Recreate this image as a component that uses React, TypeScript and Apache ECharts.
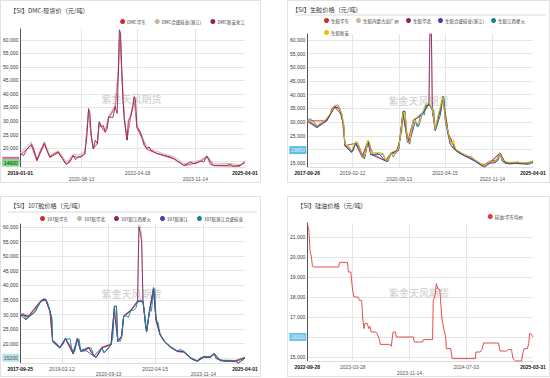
import React, { useEffect, useRef } from 'react';
import * as echarts from 'echarts';

const FONT = '"Liberation Sans", "Noto Sans CJK SC", sans-serif';
const CJK = '"Noto Sans CJK SC", "Liberation Sans", sans-serif';

const C_RED = '#d9262b';
const C_BEIGE = '#c9b79c';
const C_MAROON = '#8e2466';
const C_INDIGO = '#4b3ca8';
const C_TEAL = '#13858f';
const C_YELLOW = '#f5bc00';

// ---------- Panel 1: DMC ----------
const p1Title = '【SI】DMC-现货价（元/吨）';
const p1Names = ['DMC华东', 'DMC合盛硅业(浙江)', 'DMC新安化工'];
const p1TickPos = [0, 27.2, 52.2, 77.9, 100];
const p1TickLabels = ['2019-01-01', '2020-08-13', '2022-04-18', '2023-11-14', '2025-04-01'];
const p1East = [[0,17500],[4.9,21000],[7.4,15300],[10.7,21500],[13.2,16500],[16.9,18300],[20.6,14000],[23.5,17000],[25.7,16500],[28.7,17800],[30.4,33500],[31.6,24000],[32.5,19800],[34.3,21500],[35.1,29000],[37.8,25800],[39.3,31000],[42.2,35000],[43.7,48000],[44.1,60000],[44.6,60000],[45.1,48000],[46.3,30500],[47.5,23000],[49.0,31000],[50.7,38500],[51.9,27500],[54.3,23500],[56.3,19600],[59.6,18400],[64.0,17100],[68.4,16000],[72.8,13500],[77.2,14300],[80.1,15000],[83.1,16800],[86.0,13500],[92,13400],[97.8,13300],[100,15300]];
const p1Hoshine = [[0,18200],[4.9,22300],[7.4,16000],[10.7,22500],[13.2,17200],[16.9,19000],[20.6,14800],[23.5,17800],[25.7,17300],[28.7,18500],[30.4,34000],[31.6,25000],[32.5,20500],[34.3,22300],[35.1,29800],[37.8,26500],[39.3,31800],[42.2,36000],[43.7,50500],[44.1,62500],[44.6,62000],[45.1,50000],[46.3,31500],[47.5,24000],[49.0,32000],[50.7,38500],[51.9,28500],[54.3,24200],[56.3,20500],[59.6,19200],[64.0,17800],[68.4,16800],[72.8,14200],[77.2,14900],[80.1,15600],[83.1,17200],[86.0,14200],[92,14300],[97.8,13900],[100,15000]];
const p1Main = [[0,17900],[1.5,17300],[2.9,19500],[4.4,21000],[4.9,21400],[5.9,19800],[7.4,15500],[8.8,18600],[10.3,21000],[10.7,21800],[11.8,19200],[13.2,16700],[14.7,17700],[16.9,18600],[18.4,16700],[19.9,14500],[20.6,14000],[22.1,14900],[23.5,17300],[24.6,15700],[25.7,16700],[27.2,16700],[28.7,17900],[29.6,24100],[30.4,34600],[31.0,32800],[31.6,24100],[32.5,19800],[33.4,22900],[34.3,21700],[35.1,29700],[36.0,27800],[36.9,28400],[37.8,26000],[38.7,27200],[39.3,31500],[41.2,31300],[42.2,35300],[43.1,32800],[43.7,50100],[44.1,63700],[44.6,62500],[45.1,50100],[45.7,37700],[46.3,30900],[47.1,25400],[47.5,22900],[48.1,30300],[49.0,31500],[50.0,34600],[50.7,39000],[51.3,37700],[51.9,27800],[52.5,27200],[53.4,26000],[54.3,23500],[55.1,21000],[56.3,19800],[57.4,20400],[58.1,19200],[59.6,18600],[61.0,17900],[62.5,17700],[64.0,17300],[65.4,17000],[66.9,16700],[68.4,16100],[69.9,15200],[71.3,14500],[72.8,13600],[74.3,14200],[75.7,14900],[77.2,14200],[78.7,14500],[80.1,15200],[81.6,14900],[83.1,17000],[84.6,14000],[86.0,13600],[89.0,13600],[91.9,13600],[93.4,14000],[94.9,13200],[97.8,13600],[100,14600]];

// ---------- Panel 2: 生胶 ----------
const p2Title = '【SI】生胶价格（元/吨）';
const p2Names = ['生胶华东', '生胶内蒙古出厂价', '生胶华北', '生胶合盛硅业(浙江)', '生胶江西星火', '生胶新安'];
const p2TickPos = [0, 20, 40.7, 61, 82, 100];
const p2TickLabels = ['2017-09-26', '2019-02-12', '2020-09-13', '2022-04-15', '2023-11-14', '2025-04-01'];
const p2East = [[0,30500],[8.6,30500],[12.1,35500],[15.3,32500],[16.7,21500],[21.4,22300],[25.3,17000],[26.9,23000],[29.3,18200],[34.7,16000],[37.1,18800],[40.4,19800],[42.4,33500],[44.4,23000],[47,30500],[51,33000],[53.9,36500],[55.4,34500],[56.7,27500],[60.1,39000],[62.4,26200],[65.7,20000],[70,17800],[74.3,16200],[77.1,14800],[78.6,14600],[80.7,15800],[83.6,16200],[85.3,18500],[87.9,15300],[92.1,15400],[97.1,15000],[100,15800]];
const p2InnerMongolia = [[0,31000],[4.3,28600],[8.6,31000],[12.1,36000],[15.3,33000],[16.7,22000],[19.6,19500],[21.4,22800],[24.3,17600],[26.9,23300],[28.1,18600],[34.7,16100],[37.1,19000],[40.4,20000],[42.4,34000],[43.9,26800],[45.3,22500],[47,31000],[51,33500],[53.9,37000],[54.3,61500],[55,61500],[55.4,34800],[56.7,27400],[60.1,39400],[62.4,26300],[65.7,20100],[70,17900],[74.3,16100],[78.6,14000],[80.7,15300],[85.3,18800],[87.9,15200],[95.7,15100],[100,15700]];
const p2North = [[0,30300],[4.3,28000],[8.6,30500],[12.1,35500],[14.3,35000],[16.1,29000],[16.7,21300],[19.6,19000],[21.4,22200],[24.3,17300],[26.9,23000],[28.1,18300],[34.7,15900],[37.1,18700],[40.4,19700],[42.4,33000],[43.9,26000],[45.3,22000],[47,30500],[51,33000],[53.9,36800],[54.3,62100],[55,62100],[55.4,34600],[56.7,27000],[60.1,39000],[62.4,26000],[65.7,19800],[70,17600],[74.3,15900],[78.6,13900],[80.7,15100],[85.3,18700],[87.9,15000],[95.7,15000],[100,15500]];
const p2Hoshine = [[0,30800],[4.3,28200],[8.6,30700],[12.1,35600],[14.3,35000],[16.1,28800],[16.7,21500],[19.6,19100],[21.4,22400],[23.3,20300],[25.3,16600],[26.9,23000],[28.1,18200],[32.1,18200],[34.7,15800],[35.7,15700],[37.1,18700],[39.3,18700],[41,23400],[42.4,33800],[43.3,33800],[44.4,22700],[46.1,25200],[47.9,30400],[49.3,28500],[51,33100],[53.9,36800],[55.4,34400],[56.7,27000],[58.9,32500],[60.1,39300],[61.3,29500],[63.3,22100],[65.7,19700],[68.6,18200],[71.4,17200],[74.3,15800],[77.1,14200],[78.6,13700],[80.7,15000],[83.6,15400],[85.3,18700],[86.4,15800],[89.3,14800],[92.1,15000],[95.7,14800],[98.6,14800],[100,15500]];
const p2Xinghuo = [[0,31100],[1.4,31100],[2.9,30300],[4.3,28400],[5.3,29400],[7.1,29900],[8.6,30900],[10,32700],[11,35200],[12.1,35800],[13.6,36000],[14.3,35200],[15.3,32700],[16.1,29100],[16.7,21700],[17.6,21100],[18.6,20700],[19.6,19300],[20.4,19600],[21.4,22600],[22.4,22300],[23.3,20500],[24.3,17400],[25.3,16800],[26.1,21100],[26.9,23200],[27.6,22300],[28.1,18400],[29.3,18000],[30.7,18700],[32.1,18400],[33.6,18400],[34.7,16000],[35.7,15900],[37.1,18900],[38.1,17400],[39.3,18900],[40.4,19900],[41,23600],[41.9,27200],[42.4,34000],[43.3,34000],[43.9,26600],[44.4,22900],[45.3,22300],[46.1,25400],[47,30900],[47.9,30600],[48.6,28400],[49.3,28700],[50.1,32700],[51,33300],[51.9,32700],[52.4,36400],[53.3,35800],[53.9,37000],[55.4,34600],[56,34600],[56.7,27200],[57.3,28400],[58.1,32700],[58.9,32700],[59.6,37000],[60.1,39500],[60.7,38200],[61.3,29700],[61.9,29100],[62.4,26000],[63.3,22300],[63.9,21100],[64.7,20500],[65.7,19900],[67.1,18900],[68.6,18400],[70,17700],[71.4,17400],[72.9,17400],[74.3,16000],[75.7,15200],[77.1,14400],[78.6,13800],[79.6,14700],[80.7,15200],[82.1,15600],[83.6,15600],[84.7,16200],[85.3,18900],[85.9,18400],[86.4,16000],[87.9,15000],[89.3,15000],[90.7,15200],[92.1,15200],[93.3,15600],[94.3,15200],[95.7,15000],[97.1,14700],[98.6,15000],[100,15600]];
const p2Xinan = [[0,30500],[2.9,30000],[4.3,28800],[7.1,30200],[10,33000],[12.1,36200],[13.6,36300],[15.3,33000],[16.1,29500],[16.7,22000],[18.6,21000],[19.6,19600],[21.4,23000],[22.4,22600],[24.3,17800],[25.3,17200],[26.9,23500],[27.6,22600],[28.1,18800],[30.7,19000],[33.6,18700],[34.7,16300],[35.7,16200],[37.1,19200],[38.1,17700],[40.4,20200],[41,23500],[42.4,33500],[43.3,33500],[44.4,23200],[45.3,22600],[47,31000],[49.3,29000],[51,33500],[52.4,36600],[53.9,37200],[55.4,34800],[56.7,27600],[58.1,33000],[60.1,39200],[61.3,30000],[62.4,26500],[63.9,21500],[64.7,23500],[65.7,20300],[68.6,18800],[71.4,17800],[74.3,16400],[77.1,14800],[78.6,14100],[80.7,15500],[83.6,15900],[85.3,18600],[86.4,16300],[89.3,15400],[92.1,15500],[95.7,15300],[98.6,15200],[100,16000]];

// ---------- Panel 3: 107胶 ----------
const p3Title = '【SI】107胶价格（元/吨）';
const p3Names = ['107胶华东', '107胶华北', '107胶江西星火', '107胶浙江', '107胶浙江合盛硅业'];
const p3TickPos = [0, 18.5, 39.3, 60, 81.5, 100];
const p3TickLabels = ['2017-09-25', '2019-02-12', '2020-09-13', '2022-04-15', '2023-11-14', '2025-04-01'];
const p3East = [[0,29800],[3.7,29200],[9.3,34500],[11.3,35000],[13.2,31000],[14.4,20700],[17.6,18500],[20.1,21600],[23.5,16500],[25.4,21600],[26.9,17400],[30.4,18500],[32.8,15700],[33.8,15300],[36.3,18500],[40.4,19600],[41.9,32500],[43.4,20700],[45.1,22400],[46,29300],[49.3,31300],[52.2,34400],[54.6,34400],[56.2,24000],[57.5,31000],[59.3,39000],[60.4,28000],[62.2,23000],[64.3,20500],[66.9,18700],[69.9,17300],[72.8,17100],[75.7,15000],[78.7,14000],[81.6,15300],[84.6,15300],[86.3,16400],[89,14100],[95.6,13900],[100,15000]];
const p3North = [[0,30200],[3.7,29700],[9.3,35000],[11.3,35400],[13.2,31400],[14.4,21100],[17.6,18900],[20.1,22000],[23.5,16800],[25.4,22000],[26.9,17700],[30.4,18900],[32.8,16000],[33.8,15700],[36.3,18900],[40.4,20000],[41.9,33000],[43.4,21100],[45.1,22800],[46,29700],[49.3,31700],[52.2,34800],[52.8,60800],[53.4,60200],[54,57400],[54.6,34800],[56.2,24300],[57.5,31400],[59.3,39400],[60.4,28500],[62.2,23400],[64.3,20900],[66.9,19100],[69.9,17700],[72.8,17500],[75.7,15400],[78.7,14300],[81.6,15700],[84.6,15700],[86.3,16800],[89,14500],[95.6,14300],[100,15400]];
const p3Xinghuo = [[0,30000],[3.7,29500],[9.3,34800],[11.3,35200],[13.2,31200],[14.4,20900],[17.6,18700],[20.1,21800],[23.5,16600],[25.4,21800],[26.9,17500],[30.4,18700],[32.8,15800],[36.3,18700],[40.4,19800],[41.9,31000],[43.4,20900],[45.1,22600],[46,29500],[49.3,31500],[52.2,34600],[52.8,60000],[53.4,58000],[54,55000],[54.6,34600],[56.2,24100],[57.5,31200],[59.3,38800],[60.4,28300],[62.2,23200],[64.3,20700],[66.9,18900],[69.9,17500],[72.8,17300],[75.7,15200],[78.7,14100],[81.6,15500],[84.6,15500],[86.3,16600],[89,14300],[95.6,14100],[100,15300]];
const p3Zhejiang = [[0,29900],[2.5,28200],[6.6,30900],[9.3,34700],[11.3,35100],[13.2,31100],[14,28800],[14.4,20800],[17.6,18600],[20.1,21700],[22.8,18600],[23.5,16500],[25.4,21700],[26.9,17400],[29.4,17600],[32.8,15700],[33.8,15400],[36.3,18600],[37.2,16900],[40.4,19700],[41.9,32800],[42.8,32800],[43.4,20800],[45.1,22500],[46,29400],[49.3,31400],[52.2,34500],[54.6,34500],[55.7,26500],[56.2,24000],[57.5,31100],[59.3,39100],[60.4,28200],[62.2,23100],[64.3,20600],[66.9,18800],[69.9,17400],[72.8,17200],[75.7,15100],[78.7,14000],[81.6,15400],[84.6,15400],[86.3,16500],[87.2,14900],[91.2,14000],[95.6,14000],[97.1,13400],[100,15100]];
const p3Hoshine = [[0,30000],[1.5,30300],[2.5,28300],[3.7,29500],[5.1,30000],[6.6,31000],[8.1,33500],[9.3,34800],[10.3,35400],[11.3,35200],[12.2,34000],[13.2,31200],[14,28900],[14.4,20900],[15.4,20600],[16.6,19800],[17.6,18700],[19.1,19800],[20.1,21800],[21.3,21500],[22.1,21800],[22.8,18700],[23.5,16600],[24.3,17500],[25.4,21800],[26.2,21500],[26.9,17500],[27.9,18100],[29.4,17700],[30.4,18700],[31.6,18500],[32.8,15800],[33.8,15500],[34.9,16400],[35.7,17700],[36.3,18700],[37.2,17000],[38.2,17500],[39.3,18400],[40.4,19800],[41.2,22100],[41.9,32900],[42.8,32900],[43.4,20900],[44.6,20900],[45.1,22600],[46,29500],[47.1,29500],[48.1,29100],[49.3,31500],[50.4,31400],[51.5,32300],[52.2,34600],[53.4,35000],[54.6,34600],[55.1,31800],[55.7,26600],[56.2,24100],[56.9,27800],[57.5,31200],[58.4,31200],[59.3,39200],[59.9,38600],[60.4,28300],[61.3,27200],[62.2,23200],[63.1,22100],[64.3,20700],[65.4,19800],[66.9,18900],[68.4,18100],[69.9,17500],[71.3,18100],[72.8,17300],[74.3,16400],[75.7,15200],[77.2,14300],[78.7,14100],[80.1,15200],[81.6,15500],[83.1,15200],[84.6,15500],[85.7,16400],[86.3,16600],[87.2,15000],[89,14300],[91.2,14100],[93.4,14100],[95.6,14100],[97.1,13500],[98.5,14100],[100,15200]];

// ---------- Panel 4: 硅油 ----------
const p4Title = '【SI】硅油价格（元/吨）';
const p4Names = ['硅油:华东均价'];
const p4TickPos = [0, 20.1, 45.3, 70.4, 100];
const p4TickLabels = ['2022-09-28', '2023-03-28', '2023-11-14', '2024-07-03', '2025-03-31'];
const p4Oil = [[0,21700],[0.7,21330],[1.2,20330],[1.8,20000],[2.3,19530],[2.6,19500],[13.9,19500],[14.3,19730],[17.8,19730],[18.2,19250],[19.3,19250],[19.7,18750],[20.1,18330],[20.7,18000],[22.6,18000],[23.1,17830],[24.1,17830],[24.5,17000],[25.1,16420],[25.5,16670],[26.6,16670],[27.2,16420],[27.7,16530],[28.3,16250],[30.4,16250],[30.9,16170],[31.8,15920],[32.4,15630],[36.5,15630],[37.2,15530],[38.0,16250],[39.1,16250],[39.4,16000],[47.0,16000],[47.4,15750],[51.1,15750],[51.4,15870],[55.5,15870],[55.8,17830],[56.5,18000],[57.2,18670],[57.8,18420],[58.7,18370],[59.6,17000],[60.3,16500],[61.3,16000],[61.6,15420],[63.5,15420],[64.2,14920],[74.5,14920],[74.7,15250],[76.6,15250],[77.4,15370],[78.1,15700],[84.7,15700],[85.4,15300],[88.3,15300],[89.1,15370],[90.5,15370],[91.1,14920],[92.3,14800],[94.9,14800],[95.6,15250],[96.1,15420],[97.5,15420],[98.1,15670],[98.5,16170],[99.0,16170],[99.6,16080],[100,16000]];

const WATERMARK = '紫金天风期货';

type Mark = { series: number; value: number; bg: string; color: string };
type Cfg = {
  box: { left: number; top: number; width: number; height: number };
  title: string; titlePos: { left: number; top: number };
  legend: any;
  grid: { left: number; right: number; top: number; bottom: number };
  yMin: number; yMax: number; yLabels: number[]; yTicks: number[];
  xPos: number[]; xLabels: string[]; lower: number[];
  series: { name: string; color: string; data: number[][]; width?: number }[];
  marks: Mark[];
  separator?: number;
};

function range(a: number, b: number, s: number) {
  const r: number[] = [];
  for (let v = a; v <= b + 1e-9; v += s) r.push(v);
  return r;
}

function buildOption(c: Cfg) {
  const w = c.box.width, h = c.box.height;
  const cx = (c.grid.left + (w - c.grid.right)) / 2;
  const cy = (c.grid.top + (h - c.grid.bottom)) / 2;
  const inner = c.xPos.slice(1, -1);
  const graphic: any[] = [
    { type: 'text', x: cx, y: cy, z: 1, silent: true,
      style: { text: WATERMARK, fill: '#cdcdcd', fontSize: 10, fontFamily: CJK, align: 'center', verticalAlign: 'middle' } },
  ];
  if (c.separator !== undefined) {
    graphic.push({ type: 'line', silent: true, shape: { x1: 8, y1: c.separator, x2: w - 4, y2: c.separator }, style: { stroke: '#dcdcdc', lineWidth: 1 } });
  }
  return {
    animation: false,
    title: {
      text: c.title, left: c.titlePos.left, top: c.titlePos.top, padding: 0,
      textStyle: { fontSize: 6.2, fontWeight: 'normal', color: '#333', fontFamily: CJK },
    },
    legend: Object.assign({
      padding: 0, icon: 'circle', itemWidth: 5, itemHeight: 5, itemGap: 9,
      textStyle: { fontSize: 4.5, color: '#333', fontFamily: CJK, padding: [0, 0, 0, -3] },
      data: c.series.map((s) => s.name),
    }, c.legend),
    grid: c.grid,
    graphic,
    xAxis: {
      type: 'value', min: 0, max: 100,
      axisLine: { show: true, lineStyle: { color: '#dddddd' } },
      axisTick: { show: false, customValues: inner },
      splitLine: { show: true, lineStyle: { color: '#e6e6e6', width: 1 } },
      axisLabel: {
        customValues: c.xPos, margin: 3, fontSize: 5, fontFamily: FONT,
        formatter: (v: number) => {
          let i = 0, best = 1e9;
          c.xPos.forEach((p, k) => { const d = Math.abs(p - v); if (d < best) { best = d; i = k; } });
          const t = c.xLabels[i];
          if (i === 0 || i === c.xPos.length - 1) return `{b|${t}}`;
          return c.lower.includes(i) ? `{l|${t}}` : `{n|${t}}`;
        },
        rich: {
          b: { fontSize: 5, fontWeight: 'bold', color: '#111', fontFamily: FONT },
          n: { fontSize: 5, color: '#555', fontFamily: FONT },
          l: { fontSize: 5, color: '#555', fontFamily: FONT, padding: [6, 0, 0, 0] },
        },
      },
    },
    yAxis: {
      type: 'value', min: c.yMin, max: c.yMax,
      axisLine: { show: true, lineStyle: { color: '#555' } },
      axisTick: { show: false, customValues: c.yTicks },
      splitLine: { show: true, lineStyle: { color: '#e6e6e6', width: 1 } },
      axisLabel: { customValues: c.yLabels, fontSize: 5, color: '#333', margin: 2, fontFamily: FONT },
    },
    series: c.series.map((s, idx) => {
      const marks = c.marks.filter((m) => m.series === idx);
      const o: any = {
        type: 'line', name: s.name, data: s.data, showSymbol: false, symbol: 'none', silent: true, clip: false,
        color: s.color, lineStyle: { width: s.width || 0.9, color: s.color }, emphasis: { disabled: true },
      };
      if (marks.length) {
        o.markLine = {
          silent: true, symbol: ['none', 'none'], animation: false,
          lineStyle: { color: 'rgba(0,0,0,0)', width: 0.01, type: 'solid' },
          emphasis: { disabled: true },
          data: marks.map((m) => ({
            yAxis: m.value,
            lineStyle: { color: 'rgba(0,0,0,0)', width: 0.01 },
            label: {
              show: true, position: 'start', distance: 1,
              formatter: () => String(m.value),
              backgroundColor: m.bg, color: m.color, fontSize: 5, fontFamily: FONT, padding: [1.5, 1.5],
              opacity: 1,
            },
          })),
        };
      }
      return o;
    }),
  };
}

const configs: Cfg[] = [
  {
    box: { left: 0, top: 0, width: 261, height: 183 },
    title: p1Title, titlePos: { left: 10, top: 7 },
    legend: { right: 16, top: 19 },
    grid: { left: 18, right: 16, top: 29, bottom: 16 },
    yMin: 13000, yMax: 64000, yLabels: range(20000, 60000, 5000), yTicks: range(15000, 60000, 5000),
    xPos: p1TickPos, xLabels: p1TickLabels, lower: [1, 3],
    series: [
      { name: p1Names[0], color: C_RED, data: p1East },
      { name: p1Names[1], color: C_BEIGE, data: p1Hoshine },
      { name: p1Names[2], color: C_MAROON, data: p1Main },
    ],
    marks: [
      { series: 0, value: 15300, bg: '#ec5fae', color: '#222' },
      { series: 2, value: 14600, bg: '#7ee07e', color: '#222' },
    ],
  },
  {
    box: { left: 287, top: 0, width: 263, height: 183 },
    title: p2Title, titlePos: { left: 5, top: 6 },
    legend: { left: 37, top: 18, width: 222, itemGap: 7 },
    grid: { left: 17, right: 17, top: 34, bottom: 16 },
    yMin: 13700, yMax: 62100, yLabels: [15000].concat(range(25000, 60000, 5000)), yTicks: range(15000, 60000, 5000),
    xPos: p2TickPos, xLabels: p2TickLabels, lower: [2, 4],
    series: [
      { name: p2Names[0], color: C_RED, data: p2East },
      { name: p2Names[1], color: C_BEIGE, data: p2InnerMongolia },
      { name: p2Names[2], color: C_MAROON, data: p2North },
      { name: p2Names[3], color: C_INDIGO, data: p2Hoshine },
      { name: p2Names[4], color: C_TEAL, data: p2Xinghuo },
      { name: p2Names[5], color: C_YELLOW, data: p2Xinan },
    ],
    marks: [{ series: 5, value: 19850, bg: '#5fbfe0', color: '#eef' }],
    separator: 15,
  },
  {
    box: { left: 0, top: 196, width: 261, height: 181 },
    title: p3Title, titlePos: { left: 10, top: 6 },
    legend: { left: 40, top: 20 },
    grid: { left: 18, right: 16, top: 28, bottom: 14 },
    yMin: 13400, yMax: 61000, yLabels: range(20000, 60000, 5000), yTicks: range(15000, 60000, 5000),
    xPos: p3TickPos, xLabels: p3TickLabels, lower: [2, 4],
    series: [
      { name: p3Names[0], color: C_RED, data: p3East },
      { name: p3Names[1], color: C_BEIGE, data: p3North },
      { name: p3Names[2], color: C_MAROON, data: p3Xinghuo },
      { name: p3Names[3], color: C_INDIGO, data: p3Zhejiang },
      { name: p3Names[4], color: C_TEAL, data: p3Hoshine },
    ],
    marks: [{ series: 4, value: 15200, bg: '#b8e2e4', color: '#556' }],
    separator: 16,
  },
  {
    box: { left: 287, top: 196, width: 263, height: 181 },
    title: p4Title, titlePos: { left: 10, top: 6 },
    legend: { right: 27, top: 18 },
    grid: { left: 18, right: 17, top: 27, bottom: 16 },
    yMin: 14800, yMax: 21700, yLabels: [15000, 17000, 18000, 19000, 20000, 21000], yTicks: range(15000, 21000, 1000),
    xPos: p4TickPos, xLabels: p4TickLabels, lower: [2],
    series: [{ name: p4Names[0], color: '#e03c3c', data: p4Oil }],
    marks: [{ series: 0, value: 16000, bg: '#6ec6ea', color: '#eef' }],
  },
];

function Panel({ cfg }: { cfg: Cfg }) {
  const ref = useRef<HTMLDivElement>(null);
  useEffect(() => {
    if (!ref.current) return;
    const chart = echarts.init(ref.current, undefined, { renderer: 'svg' });
    chart.setOption(buildOption(cfg) as any);
    return () => chart.dispose();
  }, [cfg]);
  const { left, top, width, height } = cfg.box;
  return (
    <>
      <div ref={ref} style={{ position: 'absolute', left, top, width, height }} />
      <div style={{ position: 'absolute', left, top, width, height, border: '1px solid #e2e2e2', boxSizing: 'border-box', pointerEvents: 'none' }} />
    </>
  );
}

export default function App() {
  return (
    <div style={{ position: 'absolute', left: 0, top: 0, width: 550, height: 378, background: '#fff', overflow: 'hidden' }}>
      {configs.map((c, i) => <Panel key={i} cfg={c} />)}
    </div>
  );
}
